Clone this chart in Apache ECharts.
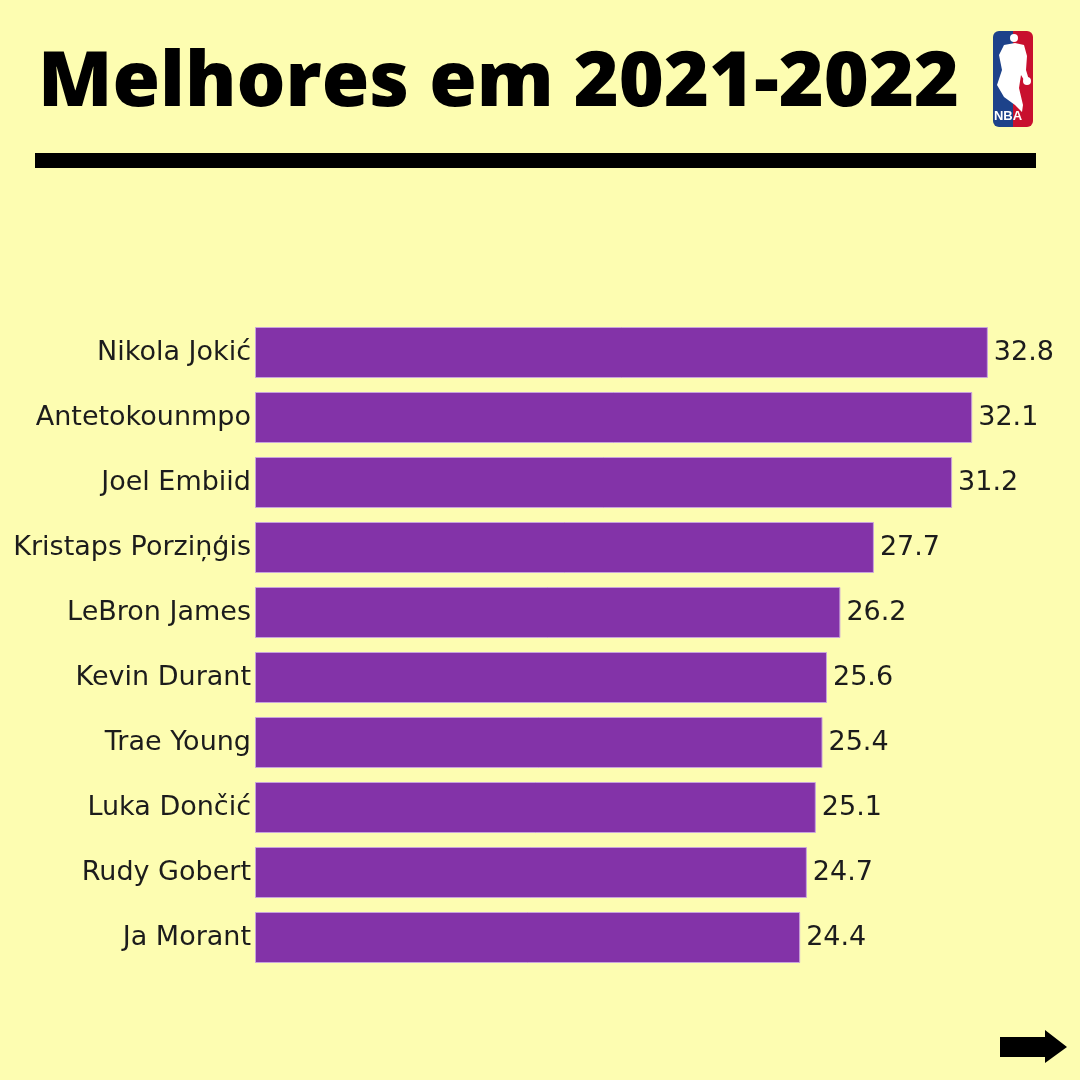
<!DOCTYPE html>
<html>
<head>
<meta charset="utf-8">
<style>
html,body{margin:0;padding:0;background:#FDFDB1;}
#chart{width:1080px;height:1080px;}
</style>
<script src="https://cdn.jsdelivr.net/npm/echarts@6/dist/echarts.min.js"></script>
</head>
<body>
<div id="chart"></div>
<script>
const players = ["Nikola Jokić","Antetokounmpo","Joel Embiid","Kristaps Porziņģis","LeBron James","Kevin Durant","Trae Young","Luka Dončić","Rudy Gobert","Ja Morant"];
const points = [32.8,32.1,31.2,27.7,26.2,25.6,25.4,25.1,24.7,24.4];
const titleText = "Melhores em 2021-2022";

const FONT = '"DejaVu Sans", Verdana, sans-serif';
const chart = echarts.init(document.getElementById('chart'), null, {renderer:'canvas'});
const option = {
  backgroundColor:'#FDFDB1',
  animation:false,
  grid:{left:255, top:320, right:43, bottom:110, containLabel:false},
  xAxis:{type:'value', min:0, max:35, show:false},
  yAxis:{type:'category', data:players, inverse:true,
    axisLine:{show:false}, axisTick:{show:false}, splitLine:{show:false},
    axisLabel:{fontFamily:FONT, fontSize:27, color:'#1c1c1c', margin:4}},
  series:[{type:'bar', data:points, barWidth:51,
    itemStyle:{color:'#8333A8', borderColor:'#C9A3DC', borderWidth:1},
    label:{show:true, position:'right', distance:6, fontFamily:FONT, fontSize:27, color:'#1c1c1c',
      formatter:p=>p.value.toFixed(1)}}],
  graphic:[
    {type:'text', x:38, y:84, style:{text:titleText, font:'800 77px "Open Sans"', fill:'#000', verticalAlign:'middle'}},
    {type:'rect', shape:{x:35, y:153, width:1001, height:15}, style:{fill:'#000'}},
    {type:'group', children:[
      {type:'rect', shape:{x:993, y:31, width:20, height:96, r:[6,0,0,6]}, style:{fill:'#1D428A'}},
      {type:'rect', shape:{x:1013, y:31, width:20, height:96, r:[0,6,6,0]}, style:{fill:'#C8102E'}},
      {type:'circle', shape:{cx:1014, cy:38, r:4}, style:{fill:'#fff'}},
      {type:'polygon', shape:{points:[[1004,45],[1015,43],[1024,45],[1027,56],[1026,70],[1029,80],[1024,80],[1021,75],[1019,88],[1023,105],[1022,112],[1015,105],[1004,97],[997,85],[1002,70],[999,55]]}, style:{fill:'#fff'}},
      {type:'circle', shape:{cx:1027, cy:81, r:4}, style:{fill:'#fff'}},
      {type:'text', x:1008, y:116, style:{text:'NBA', font:'bold 13px "Liberation Sans Narrow","Liberation Sans"', fill:'#fff', align:'center', verticalAlign:'middle'}}
    ]},
    {type:'polygon', shape:{points:[[1000,1037],[1045,1037],[1045,1030],[1067,1047],[1045,1063],[1045,1057],[1000,1057]]}, style:{fill:'#000'}}
  ]
};
chart.setOption(option);
</script>
</body>
</html>
